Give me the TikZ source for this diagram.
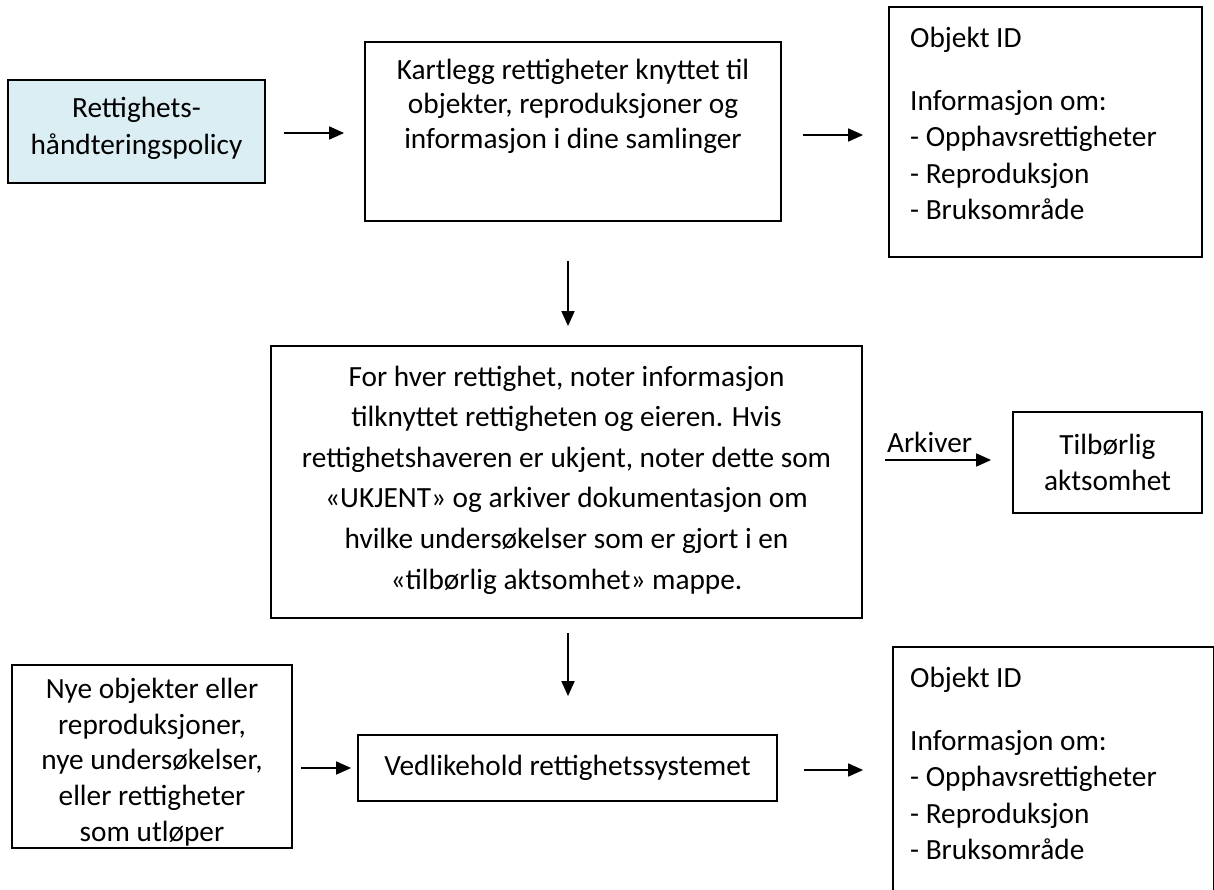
\documentclass[tikz,border=0pt]{standalone}
\usepackage{fontspec}
\setmainfont{Carlito}
\usetikzlibrary{arrows.meta,calc}
\definecolor{policyfill}{HTML}{DBEEF4}
\begin{document}
\begin{tikzpicture}[x=1pt,y=-1pt,
  every node/.style={font=\fontsize{29.3}{35.7}\selectfont},
  box/.style={draw=black, line width=1.8pt, inner sep=0pt},
  txt/.style={align=center, inner sep=0pt},
  ltxt/.style={align=left, inner sep=0pt, anchor=north west, font=\fontsize{29.3}{36.5}\selectfont},
  arr/.style={line width=1.7pt, -{Triangle[length=15pt,width=13pt]}}]
\useasboundingbox (0,0) rectangle (1214,890);
\clip (0,0) rectangle (1214,890);

% boxes
\node[box, fill=policyfill, minimum width=257, minimum height=103] (pol) at (136.5,131.5) {};
\node[box, minimum width=416, minimum height=179] (kart) at (573,131.5) {};
\node[box, minimum width=313, minimum height=250] (obj1) at (1045.5,132) {};
\node[box, minimum width=591, minimum height=272] (note) at (566.5,482) {};
\node[box, minimum width=189, minimum height=101] (tilb) at (1107.5,462.5) {};
\node[box, minimum width=280, minimum height=183] (nye) at (152,756.5) {};
\node[box, minimum width=419, minimum height=66] (ved) at (567.5,768) {};
\node[box, minimum width=321, minimum height=300] (obj2) at (1053.5,797) {};

% texts
\node[txt, font=\fontsize{29.3}{37}\selectfont] (polt) at (136.5,128) {Rettighets-\\håndteringspolicy};
\node[txt, font=\fontsize{29.3}{34.5}\selectfont] (kartt) at (573,106) {Kartlegg rettigheter knyttet til\\objekter, reproduksjoner og\\informasjon i dine samlinger};
\node[ltxt] (obj1t) at (910,27) {Objekt ID\\[26pt]Informasjon om:\\- Opphavsrettigheter\\- Reproduksjon\\- Bruksområde};
\node[txt, font=\fontsize{29.3}{40.6}\selectfont] (notet) at (566.5,480) {For hver rettighet, noter informasjon\\tilknyttet rettigheten og eieren. Hvis\\rettighetshaveren er ukjent, noter dette som\\«UKJENT» og arkiver dokumentasjon om\\hvilke undersøkelser som er gjort i en\\«tilbørlig aktsomhet» mappe.};
\node[txt] (tilbt) at (1107.5,462.5) {Tilbørlig\\aktsomhet};
\node[txt] (nyet) at (152,762) {Nye objekter eller\\reproduksjoner,\\nye undersøkelser,\\eller rettigheter\\som utløper};
\node[txt] (vedt) at (567.5,768) {Vedlikehold rettighetssystemet};
\node[ltxt] (obj2t) at (910,667) {Objekt ID\\[26pt]Informasjon om:\\- Opphavsrettigheter\\- Reproduksjon\\- Bruksområde};

% connectors
\draw[arr] ([xshift=18pt,yshift=-1.5pt]pol.east) -- ([xshift=-20pt,yshift=-1.5pt]pol.east -| kart.west);
\draw[arr] ([xshift=21pt,yshift=-3.5pt]kart.east) -- ([xshift=-25pt,yshift=-3.5pt]kart.east -| obj1.west);
\draw[arr] ($(note.north)+(1.5,-84)$) -- ($(note.north)+(1.5,-19)$);
\draw[arr] ([xshift=22pt,yshift=22pt]note.east) -- node[pos=0.42, above=6pt, inner sep=0pt] (ark) {Arkiver} ([xshift=-21pt,yshift=22pt]note.east -| tilb.west);
\draw[arr] ($(note.south)+(1.5,14)$) -- ($(note.south |- ved.north)+(1.5,-38)$);
\draw[arr] ([xshift=8pt]nye.east |- ved.west) -- ([xshift=-6pt]ved.west);
\draw[arr] ([xshift=26pt,yshift=-2pt]ved.east) -- ([xshift=-29pt,yshift=-2pt]ved.east -| obj2.west);
\end{tikzpicture}
\end{document}
